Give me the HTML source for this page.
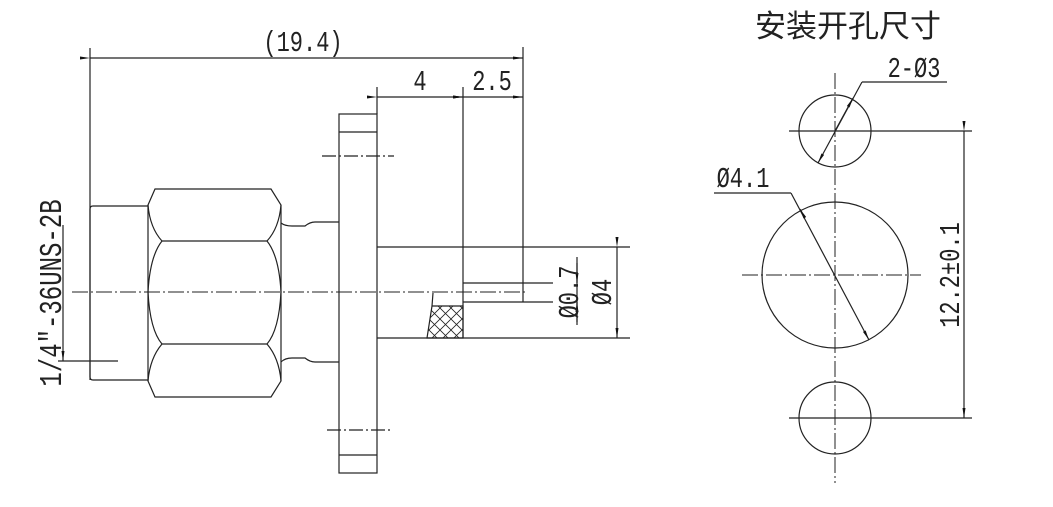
<!DOCTYPE html>
<html><head><style>
html,body{margin:0;padding:0;background:#fff;}
svg{display:block;}
text{font-family:"Liberation Mono","Liberation Serif",monospace;fill:#222;}
</style></head><body>
<svg width="1053" height="507" viewBox="0 0 1053 507" xmlns="http://www.w3.org/2000/svg">
<defs>
<marker id="a" markerWidth="10" markerHeight="6" refX="10" refY="3" orient="auto" markerUnits="userSpaceOnUse"><path d="M0,1.5 L10,3 L0,4.5 Z" fill="#111"/></marker>
<pattern id="h" width="11" height="11" patternUnits="userSpaceOnUse"><path d="M0,0 L11,11 M11,0 L0,11" stroke="#222" stroke-width="0.8"/></pattern>
</defs>
<g stroke="#222" stroke-width="1.2" fill="none">
<line x1="90" y1="48" x2="90" y2="380"/>
<line x1="523" y1="47" x2="523" y2="302"/>
<line x1="90" y1="58" x2="523" y2="58" marker-start="url(#a)" marker-end="url(#a)"/>
<line x1="377" y1="87" x2="377" y2="114"/>
<line x1="463" y1="87" x2="463" y2="338"/>
<line x1="377" y1="97" x2="463" y2="97" marker-start="url(#a)" marker-end="url(#a)"/>
<line x1="463" y1="97" x2="523" y2="97" marker-start="url(#a)" marker-end="url(#a)"/>
<rect x="339" y="114" width="38" height="359"/>
<line x1="339" y1="132" x2="377" y2="132"/>
<line x1="339" y1="455" x2="377" y2="455"/>
<line x1="322" y1="156" x2="394" y2="156" stroke-dasharray="14,3,2,3"/>
<line x1="327" y1="430" x2="391" y2="430" stroke-dasharray="14,3,2,3"/>
<path d="M148,206 L93,206 Q90,206 90,209 L90,377 Q90,380 93,380 L148,380"/>
<path d="M155,189 L271,189 L281,205 L281,381 L271,397 L155,397 L148,381 L148,205 Z"/>
<line x1="162" y1="241" x2="267" y2="241"/>
<line x1="162" y1="344" x2="267" y2="344"/>
<path d="M148,205 Q150,228 162,241 Q150,256 148,292 Q150,330 162,344 Q150,358 148,381"/>
<path d="M281,205 Q279,228 267,241 Q279,256 281,292 Q279,330 267,344 Q279,358 281,381"/>
<path d="M281,223 Q285,226 292,226 L305,226 Q310,222 315,222 L339,222"/>
<path d="M281,362 Q285,358 292,358 L305,358 Q310,362 315,362 L339,362"/>
<line x1="377" y1="247" x2="630" y2="247"/>
<line x1="377" y1="338" x2="630" y2="338"/>
<line x1="463" y1="283" x2="553" y2="283"/>
<line x1="463" y1="302" x2="553" y2="302"/>
<path d="M433,293 L432,306 L427,338 L463,338 L463,306 L432,306" fill="url(#h)"/>
<line x1="72" y1="292" x2="525" y2="292" stroke-dasharray="16,3,2,3" stroke-width="1"/>
<line x1="577" y1="257" x2="577" y2="325"/>
<line x1="577" y1="263" x2="577" y2="283" marker-end="url(#a)"/>
<line x1="577" y1="322" x2="577" y2="302" marker-end="url(#a)"/>
<line x1="617" y1="247" x2="617" y2="338" marker-start="url(#a)" marker-end="url(#a)"/>
<line x1="63" y1="225" x2="63" y2="361" marker-end="url(#a)"/>
<line x1="58" y1="361" x2="118" y2="361"/>
</g>
<text transform="translate(303,51) scale(1,1.3)" font-size="22" text-anchor="middle">(19.4)</text>
<text transform="translate(420,90) scale(1,1.3)" font-size="22" text-anchor="middle">4</text>
<text transform="translate(492,90) scale(1,1.3)" font-size="22" text-anchor="middle">2.5</text>
<text transform="translate(578,292) rotate(-90) scale(1,1.3)" font-size="22" text-anchor="middle">Ø0.7</text>
<text transform="translate(611,292) rotate(-90) scale(1,1.3)" font-size="22" text-anchor="middle">Ø4</text>
<text transform="translate(61,293) rotate(-90) scale(1,1.3)" font-size="24" text-anchor="middle">1/4″-36UNS-2B</text>

<g stroke="#222" stroke-width="1.2" fill="none">
<line x1="835" y1="73" x2="835" y2="483" stroke-dasharray="16,3,2,3" stroke-width="1"/>
<circle cx="835" cy="131" r="36"/>
<circle cx="835" cy="418" r="36"/>
<circle cx="835" cy="275" r="73"/>
<line x1="789" y1="131" x2="972" y2="131"/>
<line x1="789" y1="418" x2="972" y2="418"/>
<line x1="742" y1="275" x2="921" y2="275" stroke-dasharray="16,3,2,3" stroke-width="1"/>
<line x1="964" y1="131" x2="964" y2="418" marker-start="url(#a)" marker-end="url(#a)"/>
<line x1="947" y1="82" x2="862" y2="82"/>
<line x1="862" y1="82" x2="818" y2="163" marker-end="url(#a)"/>
<line x1="835" y1="131" x2="853" y2="98" marker-end="url(#a)"/>
<line x1="714" y1="193" x2="791" y2="193"/>
<line x1="791" y1="193" x2="869" y2="340" marker-end="url(#a)"/>
<line x1="805" y1="218" x2="800" y2="209" marker-end="url(#a)"/>
</g>
<text x="848" y="37" font-size="31" text-anchor="middle" style="font-family:'Liberation Sans','Noto Sans CJK SC',sans-serif">安装开孔尺寸</text>
<text transform="translate(914,77) scale(1,1.3)" font-size="22" text-anchor="middle">2-Ø3</text>
<text transform="translate(743,187) scale(1,1.3)" font-size="22" text-anchor="middle">Ø4.1</text>
<text transform="translate(959,275) rotate(-90) scale(1,1.3)" font-size="22" text-anchor="middle">12.2±0.1</text>
</svg>
</body></html>
